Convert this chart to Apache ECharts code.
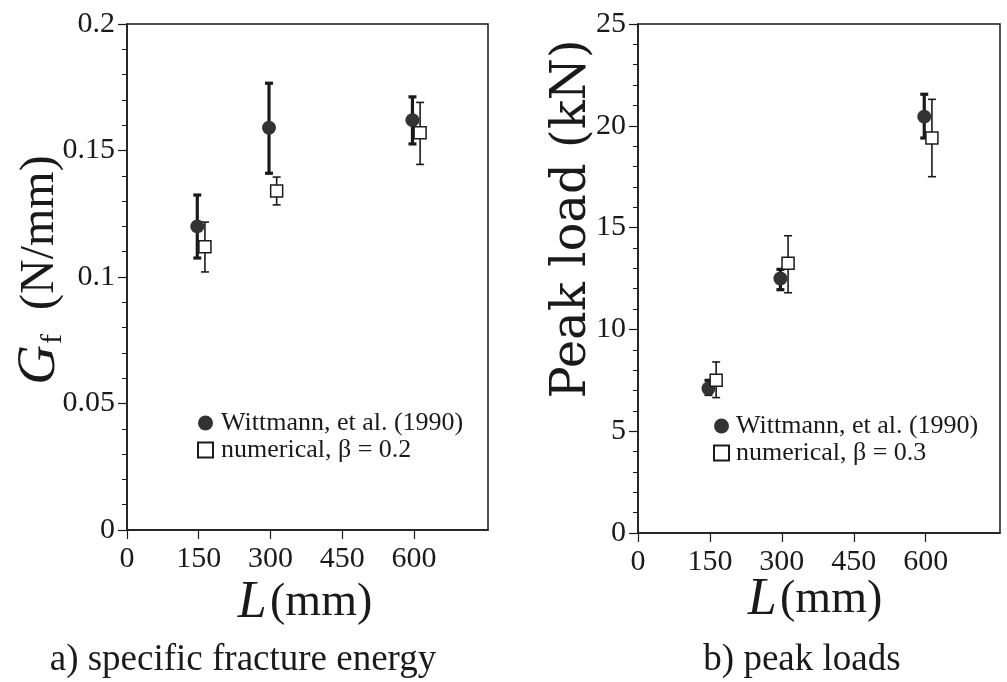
<!DOCTYPE html>
<html>
<head>
<meta charset="utf-8">
<script src="https://cdn.jsdelivr.net/npm/echarts@6/dist/echarts.min.js"></script>
<style>
html,body{margin:0;padding:0;background:#fff;}
#c{width:1007px;height:682px;}
</style>
</head>
<body>
<div id="c"></div>
<script>
// ---- data ----
var xTicks = [0, 150, 300, 450, 600];
var xWitt = [147, 297, 597];
var xNum = [163, 313, 613];
// a) specific fracture energy Gf (N/mm)
var gfWitt = [0.120, 0.159, 0.162];
var gfWittLo = [0.1075, 0.141, 0.1526];
var gfWittHi = [0.1324, 0.1766, 0.1712];
var gfNum = [0.112, 0.134, 0.157];
var gfNumLo = [0.102, 0.1285, 0.1445];
var gfNumHi = [0.1217, 0.1395, 0.169];
// b) peak loads (kN)
var plWitt = [7.1, 12.5, 20.45];
var plWittLo = [6.8, 11.95, 19.4];
var plWittHi = [7.5, 12.95, 21.55];
var plNum = [7.5, 13.25, 19.4];
var plNumLo = [6.65, 11.8, 17.5];
var plNumHi = [8.4, 14.6, 21.3];

var nameWitt = 'Wittmann, et al. (1990)';
var nameNumA = 'numerical, \u03B2 = 0.2';
var nameNumB = 'numerical, \u03B2 = 0.3';

var FONT = '"Liberation Serif", "DejaVu Serif", serif';
var WIDE = '"DejaVu Serif", "Liberation Serif", serif';
var INK = '#1a1a1a';

function pts(xs, ys) { return xs.map(function (x, i) { return [x, ys[i]]; }); }
function bars(xs, lo, hi) { return xs.map(function (x, i) { return [x, lo[i], hi[i]]; }); }

function errSeries(data, xi, yi, lw, cap) {
  return {
    type: 'custom', xAxisIndex: xi, yAxisIndex: yi, silent: true, z: 3,
    data: data,
    renderItem: function (params, api) {
      var x = api.value(0);
      var p1 = api.coord([x, api.value(1)]);
      var p2 = api.coord([x, api.value(2)]);
      var st = { stroke: INK, lineWidth: lw };
      return {
        type: 'group',
        children: [
          { type: 'line', shape: { x1: p1[0], y1: p1[1], x2: p2[0], y2: p2[1] }, style: st },
          { type: 'line', shape: { x1: p1[0] - cap, y1: p1[1], x2: p1[0] + cap, y2: p1[1] }, style: st },
          { type: 'line', shape: { x1: p2[0] - cap, y1: p2[1], x2: p2[0] + cap, y2: p2[1] }, style: st }
        ]
      };
    }
  };
}

function xAxisCfg(gi) {
  return {
    type: 'value', gridIndex: gi, min: 0, max: 755, interval: 150,
    axisLine: { lineStyle: { color: INK, width: 1.5 } },
    axisTick: { length: 9, lineStyle: { color: INK, width: 1.2 }, customValues: xTicks },
    axisLabel: { color: INK, fontFamily: FONT, fontSize: 30, margin: 14, customValues: xTicks },
    splitLine: { show: false }
  };
}
function yAxisCfg(gi, max, interval, minorN) {
  return {
    type: 'value', gridIndex: gi, min: 0, max: max, interval: interval,
    axisLine: { show: true, lineStyle: { color: INK, width: 1.5 } },
    axisTick: { show: true, length: 9, lineStyle: { color: INK, width: 1.2 } },
    minorTick: { show: true, splitNumber: minorN, length: 5, lineStyle: { color: INK, width: 1 } },
    axisLabel: { color: INK, fontFamily: FONT, fontSize: 30, margin: 12 },
    splitLine: { show: false }
  };
}

var option = {
  backgroundColor: '#fff',
  animation: false,
  grid: [
    { left: 127, top: 24, width: 361, height: 506, show: true, borderColor: INK, borderWidth: 1.5, backgroundColor: 'transparent' },
    { left: 638, top: 24, width: 362, height: 509, show: true, borderColor: INK, borderWidth: 1.5, backgroundColor: 'transparent' }
  ],
  xAxis: [xAxisCfg(0), xAxisCfg(1)],
  yAxis: [yAxisCfg(0, 0.2, 0.05, 5), yAxisCfg(1, 25, 5, 5)],
  legend: [
    {
      orient: 'vertical', left: 192, top: 405, itemWidth: 15, itemHeight: 15, itemGap: 1,
      textStyle: { fontFamily: FONT, fontSize: 26, color: INK, padding: [0, 0, 0, 3] },
      data: [nameWitt, nameNumA], selectedMode: false
    },
    {
      orient: 'vertical', left: 708, top: 408, itemWidth: 15, itemHeight: 15, itemGap: 1,
      textStyle: { fontFamily: FONT, fontSize: 26, color: INK, padding: [0, 0, 0, 2] },
      data: [nameWitt, nameNumB], selectedMode: false
    }
  ],
  series: [
    errSeries(bars(xWitt, gfWittLo, gfWittHi), 0, 0, 3.2, 4),
    errSeries(bars(xNum, gfNumLo, gfNumHi), 0, 0, 1.6, 4),
    errSeries(bars(xWitt, plWittLo, plWittHi), 1, 1, 3.2, 4),
    errSeries(bars(xNum, plNumLo, plNumHi), 1, 1, 1.6, 4),
    { name: nameWitt, type: 'scatter', xAxisIndex: 0, yAxisIndex: 0, z: 5, symbol: 'circle', symbolSize: 14,
      itemStyle: { color: '#333', opacity: 1 }, data: pts(xWitt, gfWitt) },
    { name: nameNumA, type: 'scatter', xAxisIndex: 0, yAxisIndex: 0, z: 5, symbol: 'rect', symbolSize: 12,
      itemStyle: { color: '#fff', borderColor: INK, borderWidth: 1.5, opacity: 1 }, data: pts(xNum, gfNum) },
    { name: nameWitt, type: 'scatter', xAxisIndex: 1, yAxisIndex: 1, z: 5, symbol: 'circle', symbolSize: 14,
      itemStyle: { color: '#333', opacity: 1 }, data: pts(xWitt, plWitt) },
    { name: nameNumB, type: 'scatter', xAxisIndex: 1, yAxisIndex: 1, z: 5, symbol: 'rect', symbolSize: 12,
      itemStyle: { color: '#fff', borderColor: INK, borderWidth: 1.5, opacity: 1 }, data: pts(xNum, plNum) }
  ],
  graphic: [
    { type: 'text', x: 40, y: 270, rotation: Math.PI / 2, style: {
        text: '{g|G}{s|f}{t|  (N/mm)}', align: 'center', verticalAlign: 'middle',
        rich: {
          g: { fontFamily: FONT, fontStyle: 'italic', fontSize: 55, fill: INK },
          s: { fontFamily: FONT, fontSize: 30, fill: INK, padding: [26, 0, 0, 1] },
          t: { fontFamily: FONT, fontSize: 48, fill: INK }
        } } },
    { type: 'text', x: 573, y: 219, rotation: Math.PI / 2, style: {
        text: 'Peak load (kN)', align: 'center', verticalAlign: 'middle',
        fontFamily: WIDE, fontSize: 48, fill: INK } },
    { type: 'text', x: 305, y: 603, style: {
        text: '{l|L} {t|(mm)}', align: 'center', verticalAlign: 'middle',
        rich: {
          l: { fontFamily: FONT, fontStyle: 'italic', fontSize: 52, fill: INK },
          t: { fontFamily: FONT, fontSize: 46, fill: INK }
        } } },
    { type: 'text', x: 815, y: 600, style: {
        text: '{l|L} {t|(mm)}', align: 'center', verticalAlign: 'middle',
        rich: {
          l: { fontFamily: FONT, fontStyle: 'italic', fontSize: 52, fill: INK },
          t: { fontFamily: FONT, fontSize: 46, fill: INK }
        } } },
    { type: 'text', x: 243, y: 660, style: {
        text: 'a) specific fracture energy', align: 'center', verticalAlign: 'middle',
        fontFamily: FONT, fontSize: 37, fill: INK } },
    { type: 'text', x: 802, y: 660, style: {
        text: 'b) peak loads', align: 'center', verticalAlign: 'middle',
        fontFamily: FONT, fontSize: 37, fill: INK } }
  ]
};

var chart = echarts.init(document.getElementById('c'), null, { renderer: 'canvas' });
chart.setOption(option);
</script>
</body>
</html>
